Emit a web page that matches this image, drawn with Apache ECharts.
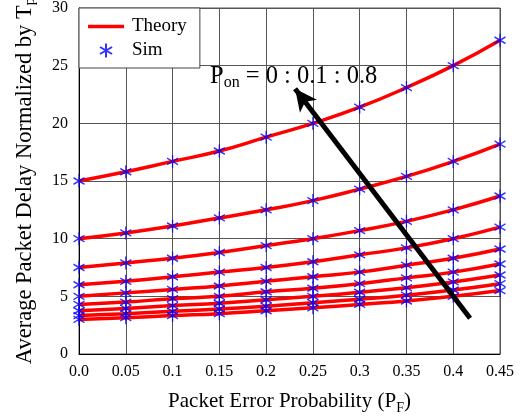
<!DOCTYPE html>
<html>
<head>
    <meta charset="utf-8">
    <title>Packet delay</title>
    <script src="https://cdn.jsdelivr.net/npm/echarts@6/dist/echarts.min.js"></script>
    <style>
        body { margin: 0; background: #fff; }
    </style>
</head>
<body>
    <div id="main" style="width:524px; height:420px;"></div>

    <script type="text/javascript">

        // packet error probability P_F
        var pf = [0, 0.05, 0.1, 0.15, 0.2, 0.25, 0.3, 0.35, 0.4, 0.45];

        // one curve for every P_on = 0.8, 0.7, ... 0 (top to bottom)
        var pon08 = [15.0, 15.8, 16.7, 17.6, 18.8, 20.0, 21.4, 23.1, 25.0, 27.2];
        var pon07 = [10.0, 10.5, 11.1, 11.8, 12.5, 13.3, 14.3, 15.4, 16.7, 18.2];
        var pon06 = [7.5, 7.9, 8.3, 8.8, 9.4, 10.0, 10.7, 11.5, 12.5, 13.7];
        var pon05 = [6.0, 6.3, 6.7, 7.1, 7.5, 8.0, 8.6, 9.2, 10.0, 11.0];
        var pon04 = [5.0, 5.3, 5.6, 5.9, 6.3, 6.7, 7.1, 7.7, 8.3, 9.1];
        var pon03 = [4.3, 4.5, 4.8, 5.0, 5.4, 5.7, 6.1, 6.6, 7.1, 7.8];
        var pon02 = [3.75, 3.95, 4.2, 4.4, 4.7, 5.0, 5.35, 5.75, 6.25, 6.85];
        var pon01 = [3.33, 3.5, 3.7, 3.9, 4.15, 4.45, 4.75, 5.1, 5.55, 6.1];
        var pon00 = [3.0, 3.15, 3.33, 3.5, 3.75, 4.0, 4.3, 4.6, 5.0, 5.5];

        var curves = [pon08, pon07, pon06, pon05, pon04, pon03, pon02, pon01, pon00];

        // arrow of the P_on annotation, in data coordinates
        var arrowFrom = [0.418, 3.1];
        var arrowTo = [0.231, 23.0];

        var FONT = '"Liberation Serif", "Times New Roman", serif';
        var ASTERISK = 'path://M0 0L0 20M-8.66 5L8.66 15M-8.66 15L8.66 5';

        function pairs(ys) {
            return pf.map(function(x, i) { return [x, ys[i]]; });
        }

        var series = [];
        curves.forEach(function(ys, k) {
            var s = {
                name: 'Theory',
                type: 'line',
                smooth: true,
                symbol: 'none',
                lineStyle: { color: '#ff0000', width: 3.5 },
                itemStyle: { color: '#ff0000' },
                z: 2,
                data: pairs(ys)
            };
            if (k === 0) {
                s.markLine = {
                    silent: true,
                    symbol: ['none', 'arrow'],
                    symbolSize: [16, 22],
                    label: { show: false },
                    lineStyle: { color: '#000', width: 5, type: 'solid' },
                    z: 5,
                    data: [[{ coord: arrowFrom }, { coord: arrowTo }]]
                };
            }
            series.push(s);
        });
        curves.forEach(function(ys) {
            series.push({
                name: 'Sim',
                type: 'scatter',
                symbol: ASTERISK,
                symbolSize: [11, 13],
                itemStyle: { color: 'none', borderColor: '#0000ff', borderWidth: 1.4 },
                z: 3,
                data: pairs(ys)
            });
        });

        var myChart = echarts.init(document.getElementById('main'));

        myChart.setOption({
            animation: false,
            textStyle: { fontFamily: FONT, color: '#000' },
            grid: {
                left: 79, right: 24, top: 8, bottom: 66,
                containLabel: false,
                outerBoundsMode: 'none',
                show: true,
                borderColor: '#555',
                borderWidth: 1
            },
            legend: {
                left: 79, top: 8,
                orient: 'vertical',
                backgroundColor: '#fff',
                borderColor: '#444',
                borderWidth: 1,
                borderRadius: 0,
                padding: [9, 13, 8, 9],
                itemGap: 5,
                itemWidth: 36,
                itemHeight: 14,
                symbolKeepAspect: true,
                textStyle: { fontFamily: FONT, fontSize: 19, color: '#000', padding: [0, 0, 0, 3] },
                data: [
                    { name: 'Theory', icon: 'path://M0 0H36V3.5H0Z' },
                    { name: 'Sim' }
                ]
            },
            xAxis: {
                type: 'value',
                min: 0, max: 0.45, interval: 0.05,
                name: '{a|Packet Error Probability (P}{b|F}{a|)}',
                nameLocation: 'middle',
                nameGap: 33,
                nameTextStyle: {
                    rich: {
                        a: { fontFamily: FONT, fontSize: 21, color: '#000', lineHeight: 28, verticalAlign: 'middle' },
                        b: { fontFamily: FONT, fontSize: 14, color: '#000', lineHeight: 14, verticalAlign: 'bottom' }
                    }
                },
                axisLine: { show: true, lineStyle: { color: '#000' } },
                axisTick: { show: false },
                axisLabel: {
                    fontFamily: FONT, fontSize: 16, color: '#000', margin: 10,
                    formatter: function(v) { return v === 0 ? '0.0' : String(+v.toFixed(2)); }
                },
                splitLine: { show: true, lineStyle: { color: '#555', width: 1 } }
            },
            yAxis: {
                type: 'value',
                min: 0, max: 30, interval: 5,
                name: '{a|Average Packet Delay Normalized by T}{b|p}',
                nameLocation: 'middle',
                nameGap: 41,
                nameTextStyle: {
                    rich: {
                        a: { fontFamily: FONT, fontSize: 22.5, color: '#000', lineHeight: 26, verticalAlign: 'middle' },
                        b: { fontFamily: FONT, fontSize: 15, color: '#000', lineHeight: 13, verticalAlign: 'bottom' }
                    }
                },
                axisLine: { show: true, lineStyle: { color: '#000' } },
                axisTick: { show: false },
                axisLabel: { fontFamily: FONT, fontSize: 16, color: '#000', margin: 11 },
                splitLine: { show: true, lineStyle: { color: '#555', width: 1 } }
            },
            graphic: [{
                type: 'text',
                left: 210,
                top: 64,
                z: 10,
                style: {
                    text: '{a|P}{b|on}{a| = 0 : 0.1 : 0.8}',
                    rich: {
                        a: { fontFamily: FONT, fontSize: 24.5, fill: '#000', lineHeight: 28, verticalAlign: 'middle' },
                        b: { fontFamily: FONT, fontSize: 16, fill: '#000', lineHeight: 16, verticalAlign: 'bottom' }
                    }
                }
            }],
            series: series
        });
    </script>
</body>
</html>
